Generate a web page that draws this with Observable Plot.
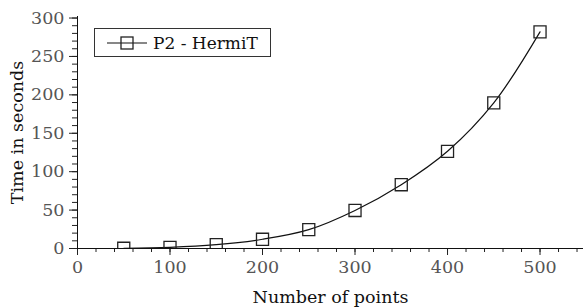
<!DOCTYPE html>
<html><head><meta charset="utf-8">
<script src="https://cdn.jsdelivr.net/npm/d3@7"></script>
<script src="https://cdn.jsdelivr.net/npm/@observablehq/plot@0.6"></script>
<style>
body{margin:0;background:#fff;}
#wrap{position:relative;width:584px;height:308px;font-family:"DejaVu Serif",serif;}
#legend{position:absolute;left:94px;top:28px;width:175px;height:27px;border:1px solid #333;background:#fff;display:flex;align-items:center;font-size:17px;color:#111;white-space:nowrap;}
#legend svg{margin-left:12px;margin-right:6px;}
</style></head><body><div id="wrap"></div>
<script>
const points = [50, 100, 150, 200, 250, 300, 350, 400, 450, 500];
const seconds = [0.3, 1.5, 5, 12, 24.5, 49.5, 83, 126.5, 189.5, 282];
const xTicks = [0, 100, 200, 300, 400, 500];
const xMinorTicks = d3.range(0, 541, 20);
const yTicks = [0, 50, 100, 150, 200, 250, 300];
const yMinorTicks = d3.range(0, 301, 10);
const seriesName = "P2 - HermiT";
const xTitle = "Number of points";
const yTitle = "Time in seconds";

const data = points.map((p, i) => ({p, s: seconds[i]}));

const chart = Plot.plot({
  width: 584, height: 308,
  marginLeft: 77, marginRight: 1, marginTop: 16, marginBottom: 60,
  style: {fontFamily: "DejaVu Serif, serif", fontSize: "17px", background: "#fff", overflow: "visible"},
  x: {domain: [0, 547]},
  y: {domain: [0, 302]},
  marks: [
    Plot.axisX({ticks: xMinorTicks, tickSize: 4, text: null, stroke: "#222", label: null}),
    Plot.axisX({ticks: xTicks, tickSize: 7, tickPadding: 5, stroke: "#222", fill: "#555", label: null, fontSize: 17.5}),
    Plot.axisY({ticks: yMinorTicks, tickSize: 5, text: null, stroke: "#222", label: null}),
    Plot.axisY({ticks: yTicks, tickSize: 8, tickPadding: 5, stroke: "#222", fill: "#555", label: null, fontSize: 17.5}),
    Plot.line(data, {x: "p", y: "s", curve: "catmull-rom", stroke: "#111", strokeWidth: 1.2}),
    Plot.dot(data, {x: "p", y: "s", symbol: "square", r: 6.8, stroke: "#222", strokeWidth: 1.3, fill: "none", clip: true, ariaLabel: "squares"}),
    Plot.ruleY([0], {stroke: "#111"}),
    Plot.ruleX([0], {stroke: "#111"}),
    Plot.text([xTitle], {frameAnchor: "bottom", dy: 54, fontSize: 17.5, fill: "#111"}),
    Plot.text([yTitle], {frameAnchor: "left", textAnchor: "middle", dx: -60, rotate: -90, fontSize: 17.5, fill: "#111"})
  ]
});
const wrap = document.getElementById("wrap");
wrap.appendChild(chart);
// ensure squares are clipped to the plotting frame
const svgNS = "http://www.w3.org/2000/svg";
const defs = document.createElementNS(svgNS, "defs");
const cp = document.createElementNS(svgNS, "clipPath");
cp.setAttribute("id", "frameclip");
const r = document.createElementNS(svgNS, "rect");
r.setAttribute("x", 77); r.setAttribute("y", 16);
r.setAttribute("width", 584 - 77 - 1); r.setAttribute("height", 308 - 16 - 60);
cp.appendChild(r); defs.appendChild(cp); chart.insertBefore(defs, chart.firstChild);
const sq = chart.querySelector('g[aria-label="squares"]');
if (sq) sq.setAttribute("clip-path", "url(#frameclip)");

const lg = document.createElement("div");
lg.id = "legend";
lg.innerHTML = `<svg width="40" height="16"><line x1="0" y1="8" x2="40" y2="8" stroke="#111" stroke-width="1.2"/><rect x="14" y="2" width="12" height="12" fill="none" stroke="#222" stroke-width="1.3"/></svg><span></span>`;
lg.querySelector("span").textContent = seriesName;
wrap.appendChild(lg);
</script></body></html>
